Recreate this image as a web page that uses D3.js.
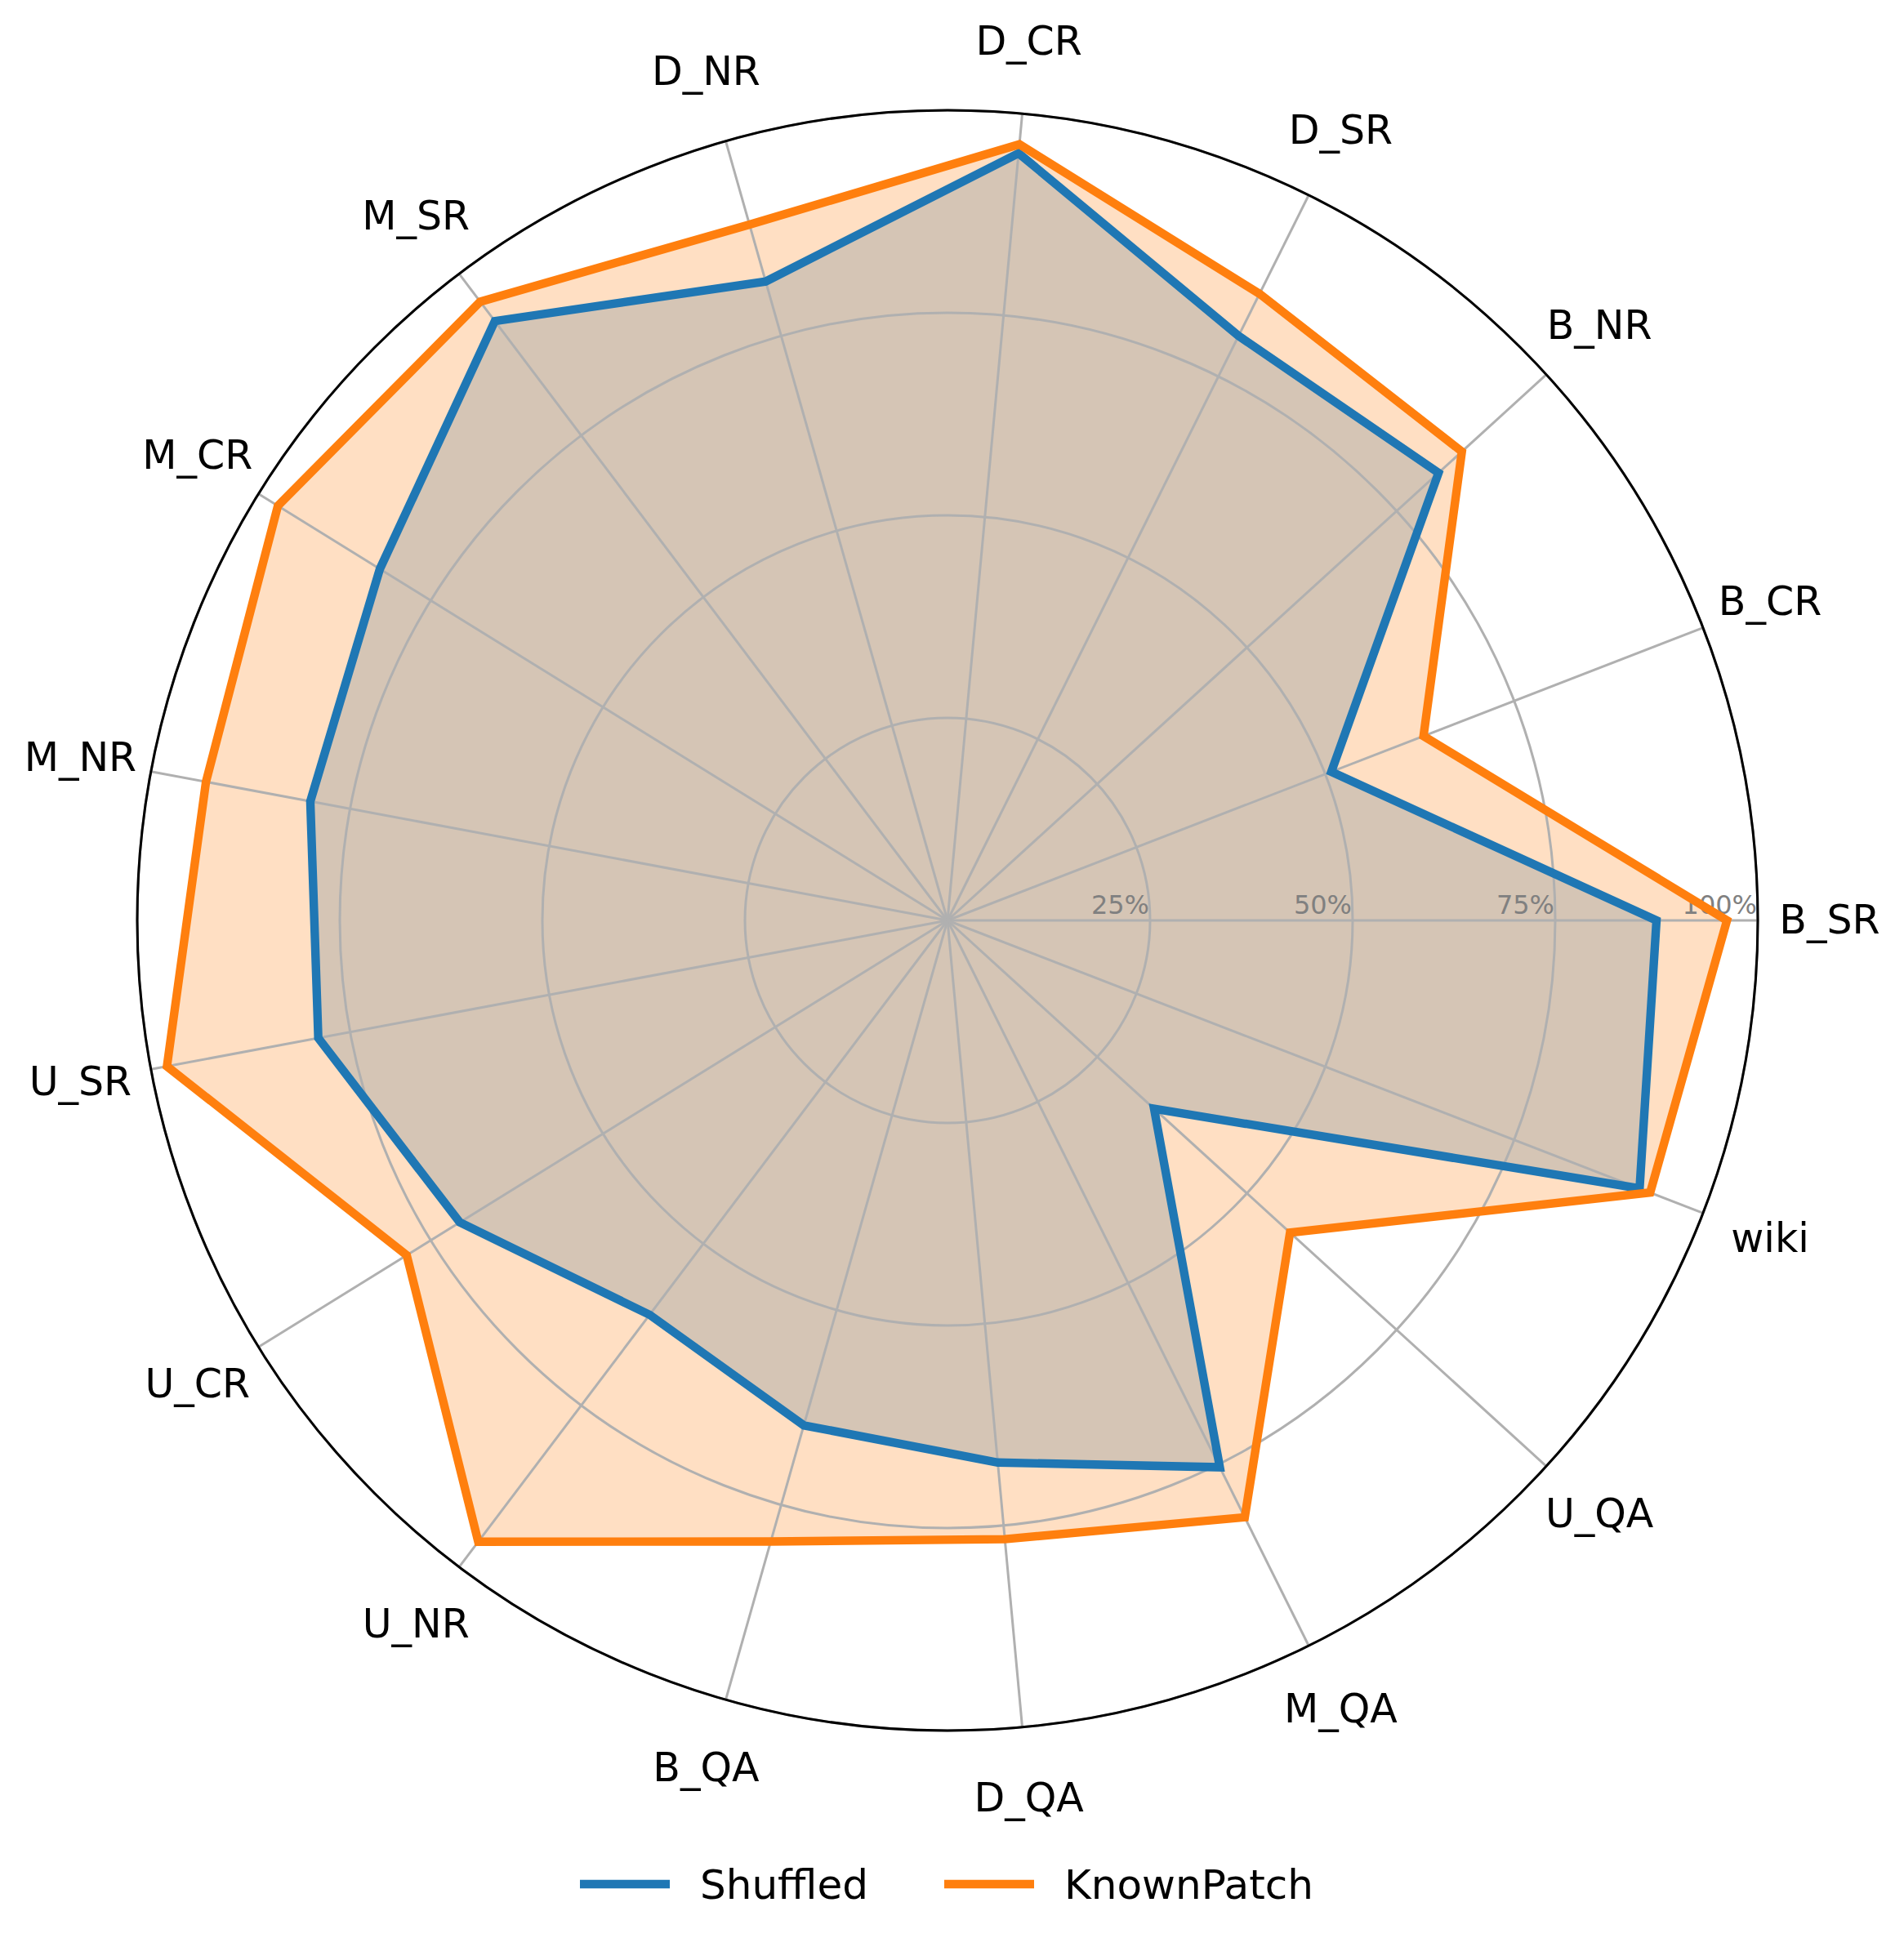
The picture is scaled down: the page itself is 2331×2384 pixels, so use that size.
<html>
    <head>
        <style>
        body {
            margin: 0;
            background: #ffffff;
        }

        svg {
            font-family: "DejaVu Sans", sans-serif;
        }

        .grid line, .grid circle {
            stroke: #b0b0b0;
            stroke-width: 3;
            fill: none;
        }

        .rlabel {
            fill: #808080;
            font-size: 32px;
        }

        .catlabel {
            fill: #000000;
            font-size: 49px;
        }

        .legend text {
            font-size: 50px;
        }
        </style>
    </head>
    <body>
        <svg width="2331" height="2384"></svg>
        <script src="https://d3js.org/d3.v7.min.js"></script>
        <script>

            // categories go counter-clockwise starting at 3 o'clock
            let categories = ["B_SR", "B_CR", "B_NR", "D_SR", "D_CR", "D_NR", "M_SR", "M_CR", "M_NR",
                              "U_SR", "U_CR", "U_NR", "B_QA", "D_QA", "M_QA", "U_QA", "wiki"]

            let shuffled = [87.5, 50.8, 82.0, 80.6, 95.1, 82.0, 92.7, 82.4, 80.0,
                            79.0, 70.8, 61.0, 64.8, 67.2, 75.4, 34.5, 91.6]

            let knownPatch = [96.2, 63.0, 85.9, 86.4, 96.2, 89.3, 95.7, 97.2, 93.1,
                              98.0, 78.5, 96.1, 79.7, 76.7, 82.3, 57.2, 93.0]

            let seriesNames = ["Shuffled", "KnownPatch"]
            let seriesColors = ["#1f77b4", "#ff7f0e"]

            let rTicks = [25, 50, 75, 100]
            let rTickLabels = ["25%", "50%", "75%", "100%"]

            let cx = 1160
            let cy = 1127
            let radius = 992

            let svg = d3.select("body").select("svg")

            let r = d3.scaleLinear()
                .domain([0, 100])
                .range([0, radius])

            let step = 2 * Math.PI / categories.length

            // math angle (ccw from east) -> d3 radial angle (cw from north)
            let theta = i => i * step
            let d3angle = i => Math.PI / 2 - theta(i)

            let g = svg.append("g")
                .attr("transform", `translate(${cx}, ${cy})`)

            let series = [shuffled, knownPatch]

            let radar = d3.lineRadial()
                .angle((d, i) => d3angle(i))
                .radius(d => r(d))
                .curve(d3.curveLinearClosed)

            // fills first (patch layer)
            g.append("g")
                .attr("class", "fills")
                .selectAll("path")
                .data(series)
                .join("path")
                .attr("d", d => radar(d))
                .style("fill", (d, i) => seriesColors[i])
                .style("fill-opacity", 0.25)
                .style("stroke", "none")

            // grid above the fills
            let grid = g.append("g").attr("class", "grid")

            grid.selectAll("circle")
                .data(rTicks)
                .join("circle")
                .attr("r", d => r(d))

            grid.selectAll("line")
                .data(categories)
                .join("line")
                .attr("x1", 0)
                .attr("y1", 0)
                .attr("x2", (d, i) => r(100) * Math.cos(theta(i)))
                .attr("y2", (d, i) => -r(100) * Math.sin(theta(i)))

            g.append("g")
                .selectAll("text")
                .data(rTicks)
                .join("text")
                .attr("class", "rlabel")
                .attr("x", d => r(d) - 1)
                .attr("y", -8)
                .attr("text-anchor", "end")
                .text((d, i) => rTickLabels[i])

            // outlines
            g.append("g")
                .attr("class", "lines")
                .selectAll("path")
                .data(series)
                .join("path")
                .attr("d", d => radar(d))
                .style("fill", "none")
                .style("stroke", (d, i) => seriesColors[i])
                .style("stroke-width", 10.4)
                .style("stroke-linejoin", "miter")

            // outer spine
            g.append("circle")
                .attr("r", r(100))
                .style("fill", "none")
                .style("stroke", "#000000")
                .style("stroke-width", 3)

            let labelR = 1080

            g.append("g")
                .selectAll("text")
                .data(categories)
                .join("text")
                .attr("class", "catlabel")
                .attr("x", (d, i) => labelR * Math.cos(theta(i)))
                .attr("y", (d, i) => -labelR * Math.sin(theta(i)))
                .attr("text-anchor", "middle")
                .attr("dy", "0.32em")
                .text(d => d)

            // legend
            let legend = svg.append("g")
                .attr("class", "legend")

            let legendX = [710, 1156]

            seriesNames.forEach((name, i) => {
                legend.append("line")
                    .attr("x1", legendX[i])
                    .attr("x2", legendX[i] + 110)
                    .attr("y1", 2307)
                    .attr("y2", 2307)
                    .style("stroke", seriesColors[i])
                    .style("stroke-width", 10.4)
                legend.append("text")
                    .attr("x", legendX[i] + 147)
                    .attr("y", 2325)
                    .text(name)
            })

        </script>
    </body>
</html>
